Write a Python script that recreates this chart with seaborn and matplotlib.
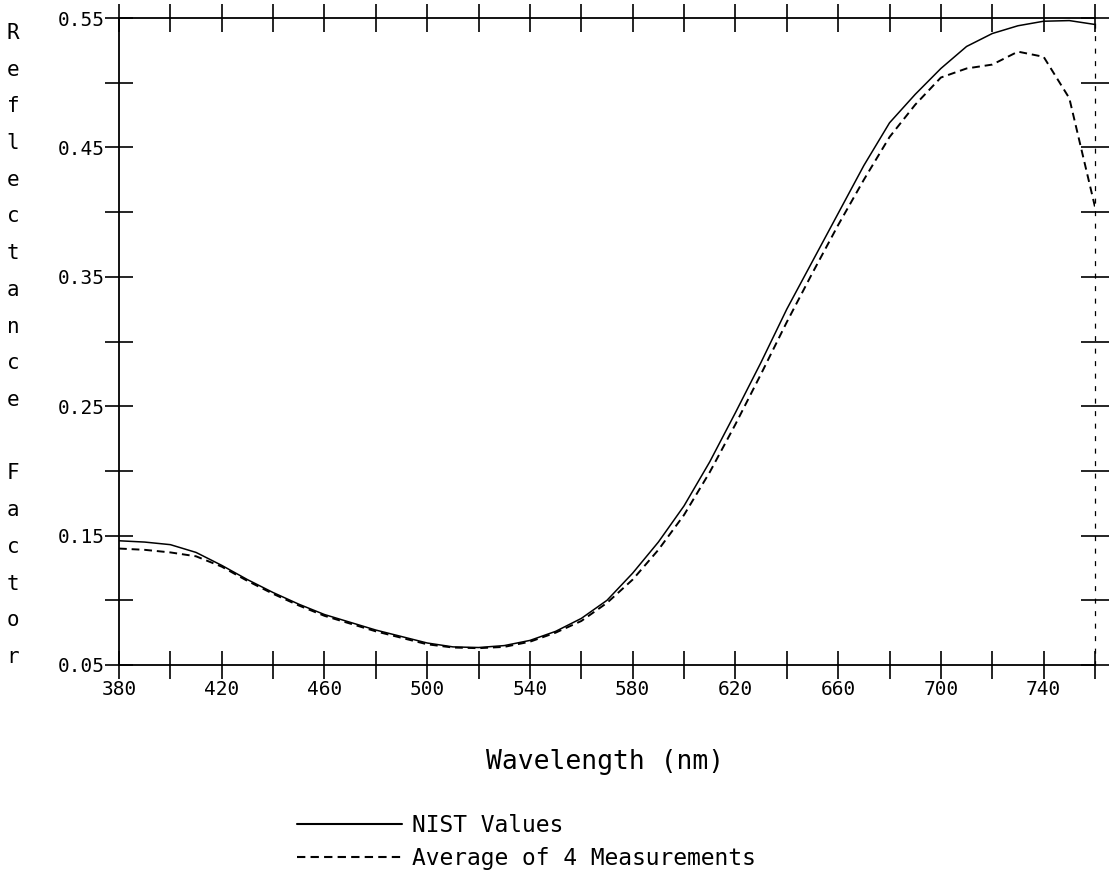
import numpy as np
import pandas as pd
import matplotlib
matplotlib.use("Agg")
import matplotlib.pyplot as plt
import seaborn as sns

# ---- data ----
wavelength = [380, 390, 400, 410, 420, 430, 440, 450, 460, 470, 480, 490, 500,
              510, 520, 530, 540, 550, 560, 570, 580, 590, 600, 610, 620, 630,
              640, 650, 660, 670, 680, 690, 700, 710, 720, 730, 740, 750, 760]
nist_values = [0.146, 0.145, 0.143, 0.137, 0.127, 0.116, 0.106, 0.097, 0.089,
               0.083, 0.077, 0.072, 0.067, 0.064, 0.0635, 0.065, 0.069, 0.076,
               0.086, 0.100, 0.121, 0.145, 0.173, 0.207, 0.245, 0.284, 0.325,
               0.362, 0.399, 0.436, 0.469, 0.491, 0.511, 0.528, 0.538, 0.544,
               0.5475, 0.548, 0.545]
avg_values = [0.140, 0.139, 0.137, 0.134, 0.126, 0.115, 0.105, 0.096, 0.088,
              0.082, 0.076, 0.071, 0.066, 0.0635, 0.063, 0.064, 0.068, 0.075,
              0.084, 0.098, 0.116, 0.139, 0.166, 0.199, 0.236, 0.275, 0.315,
              0.353, 0.390, 0.425, 0.458, 0.483, 0.504, 0.511, 0.514, 0.524,
              0.520, 0.488, 0.404]
series_names = ["NIST Values", "Average of 4 Measurements"]
x_ticks = [380, 400, 420, 440, 460, 480, 500, 520, 540, 560, 580, 600, 620,
           640, 660, 680, 700, 720, 740, 760]
x_tick_labels = ["380", "", "420", "", "460", "", "500", "", "540", "", "580",
                 "", "620", "", "660", "", "700", "", "740", ""]
y_ticks = [0.05, 0.10, 0.15, 0.20, 0.25, 0.30, 0.35, 0.40, 0.45, 0.50, 0.55]
y_tick_labels = ["0.05", "", "0.15", "", "0.25", "", "0.35", "", "0.45", "", "0.55"]
x_label = "Wavelength (nm)"
y_label_words = ["Reflectance", "Factor"]

df = pd.DataFrame({
    "Wavelength": wavelength * 2,
    "Reflectance": nist_values + avg_values,
    "Series": [series_names[0]] * len(wavelength) + [series_names[1]] * len(wavelength),
})

sns.set_theme(style="white")
plt.rcParams["font.family"] = ["DejaVu Sans Mono", "DejaVu Sans"]
plt.rcParams["text.color"] = "black"

fig = plt.figure(figsize=(11.14, 8.84), dpi=100)
ax = fig.add_axes([119 / 1114, 1 - 665 / 884, (1095 - 119) / 1114, (665 - 18) / 884])

sns.lineplot(data=df, x="Wavelength", y="Reflectance", hue="Series", style="Series",
             palette=["black", "black"], dashes={series_names[0]: "", series_names[1]: (4, 2.5)},
             ax=ax, legend=True)
for ln, lw in zip(ax.lines, [1.1, 1.4]):
    ln.set_linewidth(lw)

ax.set_xlim(380, 760)
ax.set_ylim(0.05, 0.55)
ax.set_xticks(x_ticks)
ax.set_xticklabels(x_tick_labels)
ax.set_yticks(y_ticks)
ax.set_yticklabels(y_tick_labels)
ax.tick_params(axis="both", which="major", direction="inout", length=20, width=1.2,
               color="black", labelsize=14, labelcolor="black",
               top=True, right=True, bottom=True, left=True)
ax.tick_params(axis="x", pad=1)
ax.tick_params(axis="y", pad=0)
ax.set_xlabel("")
ax.set_ylabel("")

for side in ["left", "bottom", "top"]:
    ax.spines[side].set_visible(True)
    ax.spines[side].set_color("black")
    ax.spines[side].set_linewidth(1.3)
ax.spines["right"].set_visible(True)
ax.spines["right"].set_color("black")
ax.spines["right"].set_linewidth(0.9)
ax.spines["right"].set_linestyle((0, (3, 7)))

# x label
fig.text(605 / 1114, 1 - 762 / 884, x_label, ha="center", va="center", fontsize=19,
         color="black")

# stacked y label letters
label_chars = list(y_label_words[0]) + [" "] + list(y_label_words[1])
for i, ch in enumerate(label_chars):
    fig.text(13 / 1114, 1 - (33 + i * 36.7) / 884, ch, ha="center", va="center",
             fontsize=15, color="black")

# legend
handles, labels = ax.get_legend_handles_labels()
ax.get_legend().remove()
leg = fig.legend(handles, labels, loc="upper left", bbox_to_anchor=(297 / 1114, 1 - 814 / 884),
                 frameon=False, fontsize=16.5, handlelength=4.6, handletextpad=0.4,
                 borderpad=0, borderaxespad=0, labelspacing=0.42)
for t in leg.get_texts():
    t.set_color("black")

fig.savefig("out.png", dpi=100, facecolor="white")
